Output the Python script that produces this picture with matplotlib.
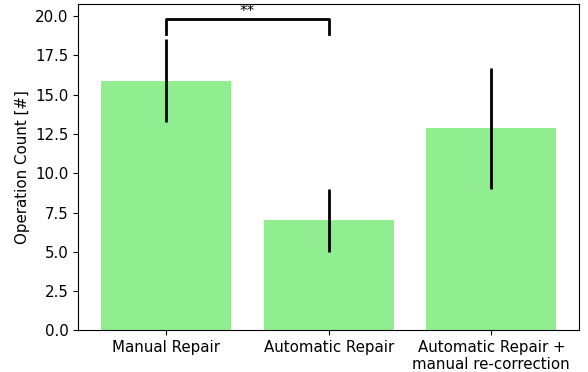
import numpy as np
import matplotlib
matplotlib.use('Agg')
import matplotlib.pyplot as plt

plt.rcParams['font.size'] = 10.8

labels = ['Manual Repair', 'Automatic Repair', 'Automatic Repair +\nmanual re-correction']
means = [15.9, 7.0, 12.85]
errors = [2.64, 2.0, 3.83]

# significance bracket between the first two bars
sig_pair = (0, 1)
sig_top = 19.8
sig_leg = 18.85
sig_text = '**'

fig, ax = plt.subplots(figsize=(5.88, 3.72), dpi=100)
x = np.arange(len(labels))
ax.bar(x, means, width=0.8, color='lightgreen')
ax.errorbar(x, means, yerr=errors, fmt='none', ecolor='black', elinewidth=2, capsize=0)

x1, x2 = sig_pair
ax.plot([x1, x1, x2, x2], [sig_leg, sig_top, sig_top, sig_leg], color='black', linewidth=2)
ax.text((x1 + x2) / 2, sig_top, sig_text, ha='center', va='bottom')

ax.set_xticks(x)
ax.set_xticklabels(labels)
ax.set_ylabel('Operation Count [#]')

plt.subplots_adjust(left=0.133, right=0.985, top=0.99, bottom=0.112)
plt.savefig('out.png')
